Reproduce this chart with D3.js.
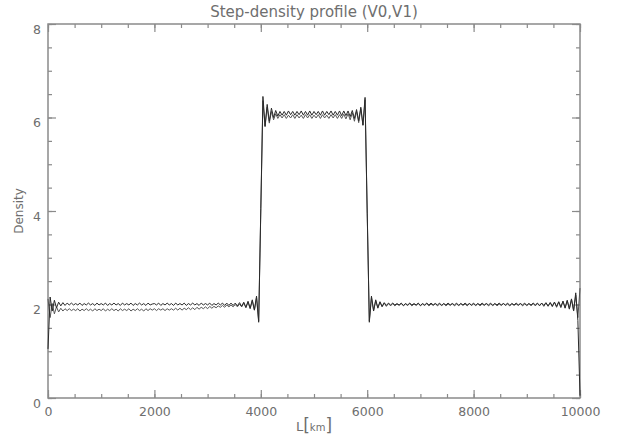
<!DOCTYPE html>
<html><head><meta charset="utf-8">
<script src="https://cdn.jsdelivr.net/npm/d3@7/dist/d3.min.js"></script>
<style>
body{margin:0;background:#fff;}
text{font-family:"DejaVu Sans","Liberation Sans",sans-serif;fill:#6e6e6e;}
</style></head>
<body><svg id="c" width="624" height="445"></svg>
<script>
// ---- data ----
const titleText = "Step-density profile (V0,V1)";
const xTickValues = [0, 2000, 4000, 6000, 8000, 10000];
const yTickValues = [0, 2, 4, 6, 8];
const sampleStepKm = 40;
const xKm = d3.range(0, 10000 + 1, sampleStepKm); // sample positions along L
const densityV0 = [
 1.05,2.16,1.86,2.09,1.93,2.05,1.97,2.04,1.98,2.03,
 1.99,2.03,1.99,2.02,1.99,2.03,1.98,2.02,1.99,2.03,
 1.99,2.02,1.98,2.03,1.99,2.02,1.99,2.03,1.98,2.02,
 1.99,2.03,1.99,2.02,1.98,2.03,1.99,2.02,1.99,2.03,
 1.98,2.02,1.99,2.03,1.99,2.02,1.98,2.03,1.99,2.01,
 2.02,1.99,2.03,1.98,2.02,1.99,2.03,1.99,2.02,1.98,
 2.03,1.99,2.02,1.99,2.03,1.98,2.02,1.99,2.03,1.99,
 2.02,1.98,2.03,1.99,2.02,1.99,2.03,1.98,2.02,1.99,
 2.03,1.99,2.03,1.98,2.03,1.98,2.03,1.98,2.03,1.97,
 2.04,1.96,2.05,1.94,2.07,1.92,2.10,1.88,2.18,1.62,
 4.05,6.45,5.82,6.28,5.92,6.20,6.00,6.15,6.03,6.13,
 6.05,6.13,6.05,6.14,6.06,6.13,6.05,6.13,6.06,6.14,
 6.05,6.13,6.05,6.14,6.05,6.13,6.06,6.13,6.05,6.14,
 6.05,6.13,6.06,6.14,6.05,6.13,6.05,6.14,6.04,6.14,
 6.04,6.14,6.02,6.15,5.98,6.17,5.93,6.22,5.84,6.43,
 4.00,1.62,2.18,1.86,2.10,1.93,2.06,1.96,2.04,1.98,
 2.03,1.99,2.03,1.99,2.02,1.99,2.03,1.98,2.02,1.99,
 2.03,1.99,2.02,1.99,2.03,1.98,2.02,1.99,2.03,1.99,
 2.03,1.99,2.02,1.99,2.03,1.98,2.02,1.99,2.03,1.99,
 2.02,1.99,2.03,1.98,2.02,1.99,2.03,1.99,2.02,1.99,
 2.03,1.98,2.02,1.99,2.03,1.99,2.02,1.99,2.03,1.98,
 2.02,1.99,2.03,1.99,2.02,1.99,2.03,1.98,2.02,1.99,
 2.03,1.99,2.02,1.99,2.03,1.98,2.02,1.99,2.03,1.99,
 2.03,1.98,2.03,1.98,2.04,1.97,2.04,1.97,2.05,1.96,
 2.06,1.95,2.07,1.93,2.09,1.91,2.12,1.87,2.25,1.66,
 0.05
];
const densityV1 = [
 2.12,1.72,2.02,1.80,1.95,1.84,1.92,1.86,1.91,1.87,
 1.91,1.87,1.90,1.87,1.91,1.86,1.90,1.87,1.91,1.87,
 1.90,1.86,1.91,1.87,1.90,1.87,1.91,1.86,1.90,1.87,
 1.91,1.87,1.90,1.86,1.91,1.87,1.90,1.87,1.91,1.86,
 1.90,1.87,1.91,1.87,1.90,1.86,1.91,1.87,1.91,1.88,
 1.91,1.87,1.91,1.88,1.91,1.87,1.91,1.88,1.91,1.88,
 1.92,1.88,1.92,1.88,1.92,1.89,1.93,1.89,1.93,1.89,
 1.94,1.90,1.94,1.91,1.95,1.91,1.96,1.92,1.96,1.93,
 1.97,1.94,1.98,1.94,1.99,1.95,1.99,1.95,2.00,1.95,
 2.01,1.95,2.03,1.93,2.05,1.91,2.08,1.88,2.15,1.65,
 4.00,6.36,5.80,6.22,5.88,6.13,5.95,6.08,5.98,6.06,
 5.99,6.06,5.98,6.05,5.99,6.06,5.98,6.06,5.99,6.05,
 5.98,6.06,5.99,6.06,5.98,6.05,5.99,6.06,5.98,6.06,
 5.99,6.05,5.98,6.06,5.99,6.06,5.98,6.06,5.98,6.07,
 5.97,6.08,5.95,6.10,5.92,6.13,5.89,6.19,5.83,6.38,
 3.95,1.65,2.15,1.87,2.08,1.92,2.05,1.95,2.03,1.96,
 2.02,1.97,2.02,1.97,2.01,1.98,2.02,1.97,2.01,1.98,
 2.02,1.97,2.01,1.98,2.02,1.97,2.01,1.98,2.02,1.97,
 2.01,1.98,2.02,1.97,2.01,1.98,2.02,1.97,2.01,1.98,
 2.02,1.97,2.01,1.98,2.02,1.98,2.01,1.97,2.02,1.98,
 2.01,1.98,2.02,1.97,2.01,1.98,2.02,1.97,2.01,1.98,
 2.02,1.97,2.01,1.98,2.02,1.98,2.01,1.97,2.02,1.98,
 2.01,1.98,2.02,1.97,2.01,1.98,2.02,1.97,2.02,1.97,
 2.02,1.97,2.03,1.96,2.03,1.96,2.04,1.95,2.05,1.94,
 2.05,1.93,2.07,1.92,2.08,1.90,2.11,1.86,2.20,1.72,
 2.35
];

// ---- layout ----
const svg = d3.select("#c");
const L = 48, R = 580, T = 24, B = 398;
const x = d3.scaleLinear().domain([0, 10000]).range([L, R]);
const y = d3.scaleLinear().domain([0, 8]).range([B, T]);
const axisColor = "#8a8a8a";

function styleAxis(g){
  g.select(".domain").remove();
  g.selectAll(".tick line").attr("stroke", axisColor).attr("stroke-width", 1.2);
}
const xMinor = d3.range(0, 10001, 500);
const yMinor = d3.range(0, 8.01, 0.5);

// bottom
svg.append("g").attr("transform", `translate(0,${B})`)
  .call(d3.axisBottom(x).tickValues(xMinor).tickSize(-4).tickFormat("")).call(styleAxis);
svg.append("g").attr("transform", `translate(0,${B})`)
  .call(d3.axisBottom(x).tickValues(xTickValues).tickSize(-8).tickPadding(9).tickFormat(d3.format("d")))
  .call(styleAxis)
  .call(g => g.selectAll("text").attr("font-size", 12.5).attr("fill", "#6e6e6e"));
// top
svg.append("g").attr("transform", `translate(0,${T})`)
  .call(d3.axisTop(x).tickValues(xMinor).tickSize(-4).tickFormat("")).call(styleAxis);
svg.append("g").attr("transform", `translate(0,${T})`)
  .call(d3.axisTop(x).tickValues(xTickValues).tickSize(-8).tickFormat("")).call(styleAxis);
// left
svg.append("g").attr("transform", `translate(${L},0)`)
  .call(d3.axisLeft(y).tickValues(yMinor).tickSize(-4).tickFormat("")).call(styleAxis);
svg.append("g").attr("transform", `translate(${L},0)`)
  .call(d3.axisLeft(y).tickValues(yTickValues).tickSize(-8).tickPadding(7).tickFormat(d3.format("d")))
  .call(styleAxis)
  .call(g => g.selectAll("text").attr("font-size", 12.5).attr("fill", "#6e6e6e").attr("dy", "0.72em"));
// right
svg.append("g").attr("transform", `translate(${R},0)`)
  .call(d3.axisRight(y).tickValues(yMinor).tickSize(-4).tickFormat("")).call(styleAxis);
svg.append("g").attr("transform", `translate(${R},0)`)
  .call(d3.axisRight(y).tickValues(yTickValues).tickSize(-8).tickFormat("")).call(styleAxis);

// frame
svg.append("rect").attr("x", L).attr("y", T).attr("width", R - L).attr("height", B - T)
  .attr("fill", "none").attr("stroke", axisColor).attr("stroke-width", 1.5);

// lines
const line = d3.line().x((d, i) => x(xKm[i])).y(d => y(d));
svg.append("path").datum(densityV1).attr("d", line)
  .attr("fill", "none").attr("stroke", "#555").attr("stroke-width", 1);
svg.append("path").datum(densityV0).attr("d", line)
  .attr("fill", "none").attr("stroke", "#2a2a2a").attr("stroke-width", 1);

// titles
svg.append("text").attr("x", (L + R) / 2).attr("y", 17).attr("text-anchor", "middle")
  .attr("font-size", 15).attr("fill", "#6e6e6e").text(titleText);
svg.append("text").attr("transform", `translate(23,${(T + B) / 2}) rotate(-90)`)
  .attr("text-anchor", "middle").attr("font-size", 12).attr("fill", "#6e6e6e").text("Density");
const xl = svg.append("text").attr("x", (L + R) / 2).attr("y", 431).attr("text-anchor", "middle")
  .attr("fill", "#6e6e6e");
xl.append("tspan").attr("font-size", 13).text("L");
xl.append("tspan").attr("font-size", 17).text("[");
xl.append("tspan").attr("font-size", 10).text("km");
xl.append("tspan").attr("font-size", 17).text("]");
</script></body></html>
